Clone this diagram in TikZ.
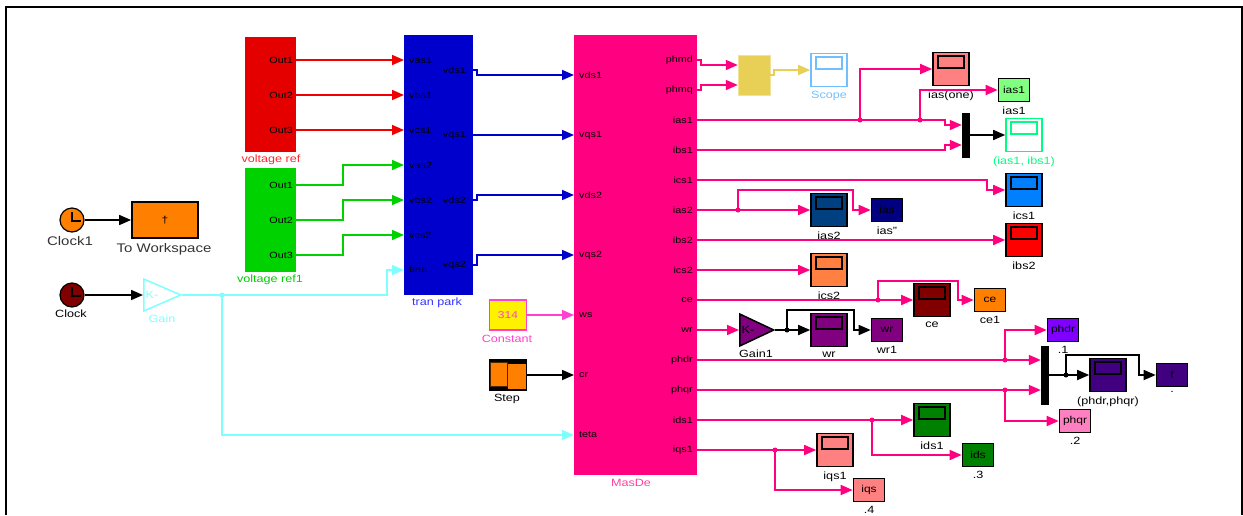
\documentclass[tikz,border=0pt]{standalone}
\usepackage{fontspec}
\setmainfont[FakeStretch=1.2]{Liberation Sans}
\usetikzlibrary{shapes.geometric, arrows.meta, positioning, calc}

\definecolor{pinkwire}{RGB}{255, 0, 128}
\definecolor{cyanwire}{RGB}{128, 255, 255}
\definecolor{redwire}{RGB}{240, 0, 0}
\definecolor{greenwire}{RGB}{0, 210, 0}
\definecolor{bluewire}{RGB}{0, 0, 205}
\definecolor{magwire}{RGB}{255, 64, 208}
\definecolor{yelblock}{RGB}{232, 207, 85}
\definecolor{salmon}{RGB}{255, 128, 128}
\definecolor{sky}{RGB}{112, 192, 255}
\definecolor{mint}{RGB}{0, 255, 128}
\definecolor{lime}{RGB}{128, 255, 128}
\definecolor{navyA}{RGB}{0, 64, 128}
\definecolor{navyB}{RGB}{0, 0, 128}
\definecolor{azure}{RGB}{0, 128, 255}
\definecolor{coral}{RGB}{255, 128, 64}
\definecolor{maroonA}{RGB}{128, 0, 0}
\definecolor{orangeA}{RGB}{255, 128, 0}
\definecolor{purpleA}{RGB}{128, 0, 128}
\definecolor{violetA}{RGB}{128, 0, 255}
\definecolor{indigoA}{RGB}{64, 0, 128}
\definecolor{rose}{RGB}{255, 128, 192}
\definecolor{greenA}{RGB}{0, 128, 0}

\tikzset{
    wire/.style={line width=1.7pt, -{Triangle[length=12pt,width=10pt]}},
    dotjoin/.style={circle, fill, inner sep=0pt, minimum size=5pt},
    subsys/.style={inner sep=0pt, outer sep=0pt, anchor=north west},
    portname/.style={inner sep=1pt, font=\fontsize{9}{9}\selectfont},
    tag/.style={inner sep=0pt, font=\fontsize{10.5}{10.5}\selectfont},
    scopebox/.style={draw=black, line width=1.6pt, minimum width=36pt, minimum height=33pt, inner sep=0pt},
    scopewin/.style={draw=black, line width=1.6pt, minimum width=26pt, minimum height=12pt, inner sep=0pt},
    dispbox/.style={draw=black, line width=1.6pt, minimum width=31pt, minimum height=23pt, inner sep=0pt, font=\fontsize{10}{10}\selectfont},
    muxbar/.style={fill=black, minimum width=8pt, inner sep=0pt},
    clockface/.style={circle, draw=black, line width=1.2pt, minimum size=24pt, inner sep=0pt},
    gainbox/.style={isosceles triangle, isosceles triangle apex angle=80, isosceles triangle stretches, minimum width=32pt, minimum height=37pt, inner sep=0pt, line width=1.5pt, anchor=west}
}

\begin{document}
\begin{tikzpicture}[x=1pt, y=-1pt]
    \useasboundingbox (0,0) rectangle (1243,515);

    % Outer frame
    \draw[line width=1.8pt] (6,515) -- (6,7) -- (1242,7) -- (1242,515);

    % Source subsystems
    \node[subsys, fill=red!90!black, minimum width=51.5pt, minimum height=115pt] (vref) at (244.5,37) {};
    \node[subsys, fill=greenwire, minimum width=51.5pt, minimum height=104pt] (vrefb) at (244.5,168) {};
    \node[subsys, fill=bluewire, minimum width=69.5pt, minimum height=260pt] (park) at (403.5,35) {};
    \node[subsys, fill=pinkwire, minimum width=123.5pt, minimum height=440pt] (masde) at (573.5,35) {};
    \node[tag, text=red!85!white] (vreflbl) at (271,160) {voltage ref};
    \node[tag, text=green!80!black] (vrefblbl) at (270,280) {voltage ref1};
    \node[tag, text=blue!80!white] (parklbl) at (437,303) {tran park};
    \node[tag, text=pinkwire!75!white] (masdelbl) at (631,483) {MasDe};

    % Ports on the subsystems
    \foreach \nm/\yy/\txt in {a/60/Out1, b/95/Out2, c/130/Out3} {
        \coordinate (ref\nm) at (296,\yy);
        \node[portname, left=2pt of ref\nm] (ref\nm txt) {\txt};
    }
    \foreach \nm/\yy/\txt in {a/185/Out1, b/220/Out2, c/255/Out3} {
        \coordinate (refb\nm) at (296,\yy);
        \node[portname, left=2pt of refb\nm] (refb\nm txt) {\txt};
    }
    \foreach \nm/\yy in {vas1/60, vbs1/95, vcs1/130, vas2/165, vbs2/200, vcs2/235, teta/270} {
        \coordinate (pin\nm) at (404,\yy);
        \node[portname, right=4pt of pin\nm] (pin\nm txt) {\nm};
    }
    \foreach \nm/\yy in {vds1/70, vqs1/135, vds2/200, vqs2/265} {
        \coordinate (pout\nm) at (473,\yy);
        \node[portname, left=6pt of pout\nm] (pout\nm txt) {\nm};
    }
    \foreach \nm/\yy in {vds1/75, vqs1/135, vds2/195, vqs2/255, ws/315, cr/375, teta/435} {
        \coordinate (min\nm) at (574,\yy);
        \node[portname, right=4pt of min\nm] (min\nm txt) {\nm};
    }
    \foreach \nm/\yy in {phmd/60, phmq/90, ias1/120, ibs1/150, ics1/180, ias2/210, ibs2/240,
                         ics2/270, ce/300, wr/330, phdr/360, phqr/390, ids1/420, iqs1/450} {
        \coordinate (mo\nm) at (697,\yy);
        \node[portname, left=3pt of mo\nm] (mo\nm txt) {\nm};
    }

    % Scopes
    \foreach \nm/\cx/\cy/\col/\txt in {iasone/951/69/salmon/ias(one), sias2/829/210/navyA/ias2,
                                       sics1/1024/190/azure/ics1, sibs2/1024/240/red/ibs2,
                                       sics2/829/270/coral/ics2, sce/932/300/maroonA/ce,
                                       swr/829/330/purpleA/wr, sphi/1108/375/indigoA/{(phdr,phqr)},
                                       sids/932/420/greenA/ids1, siqs/835/450/salmon/iqs1} {
        \node[scopebox, fill=\col] (\nm) at (\cx,\cy) {};
        \node[scopewin, fill=\col, yshift=7pt] (\nm win) at (\nm.center) {};
        \node[tag, below=4pt of \nm] (\nm lbl) {\txt};
    }
    \node[scopebox, draw=sky, fill=white] (scope) at (829,70) {};
    \node[scopewin, draw=sky, yshift=7pt] (scopewin) at (scope.center) {};
    \node[tag, text=sky, below=4pt of scope] (scopelbl) {Scope};
    \node[scopebox, draw=mint, fill=white] (siab) at (1024,135) {};
    \node[scopewin, draw=mint, yshift=7pt] (siabwin) at (siab.center) {};
    \node[tag, text=mint, below=4pt of siab] (siablbl) {(ias1, ibs1)};

    % Displays
    \foreach \nm/\cx/\cy/\col/\txt/\sub in {dias/1014/90/lime/ias1/ias1, diasb/887/210/navyB/ias/ias",
                                            dce/990/300/orangeA/ce/ce1, dwr/887/330/purpleA/wr/wr1,
                                            dphdr/1063/330/violetA/phdr/.1, dphqr/1075/421/rose/phqr/.2,
                                            df/1172/375/indigoA/f/., dids/978/455/greenA/ids/.3,
                                            diqs/869/490/salmon/iqs/.4} {
        \node[dispbox, fill=\col] (\nm) at (\cx,\cy) {\txt};
        \node[tag, below=4pt of \nm] (\nm lbl) {\sub};
    }

    % Muxes and the yellow block
    \node[muxbar, minimum height=45pt] (muxa) at (966,135) {};
    \node[muxbar, minimum height=59pt] (muxb) at (1045,375) {};
    \node[fill=yelblock, draw=yelblock!60!white, minimum width=32pt, minimum height=40pt, inner sep=0pt] (yel) at (754,75) {};

    % Clocks and gains
    \node[clockface, fill=orangeA] (clka) at (72,220) {};
    \node[clockface, fill=maroonA] (clkb) at (72,295) {};
    \foreach \nm in {clka, clkb} {
        \draw[line width=1.2pt] ($(\nm.center)+(0,-8)$) -- ($(\nm.center)+(0,1)$) -- ($(\nm.center)+(9,1)$);
    }
    \node[tag, font=\fontsize{12.5}{12.5}\selectfont, text=black!80] (clkalbl) at (70,241) {Clock1};
    \node[tag] (clkblbl) at (71,314) {Clock};
    \node[draw=black, line width=1.8pt, fill=orangeA, minimum width=66pt, minimum height=36pt, inner sep=0pt] (work) at (165,220) {†};
    \node[tag, font=\fontsize{12.5}{12.5}\selectfont, text=black!80] (worklbl) at (164,249) {To Workspace};
    \node[gainbox, draw=cyanwire, fill=white] (gain) at (143,295) {};
    \node[tag, text=cyanwire] (gainK) at (152,295) {K-};
    \node[tag, text=cyanwire] (gainlbl) at (162,319) {Gain};
    \node[gainbox, draw=black, fill=purpleA, minimum height=34pt] (gainb) at (739,330) {};
    \node[tag] (gainbK) at (748,330) {K-};
    \node[tag] (gainblbl) at (756,354) {Gain1};

    % Constant and step
    \node[draw=magwire, line width=1.6pt, fill=yellow, text=magwire, minimum width=37pt, minimum height=30pt, inner sep=0pt, font=\fontsize{10}{10}\selectfont] (const) at (508,315) {314};
    \node[tag, text=magwire] (constlbl) at (507,339) {Constant};
    \node[draw=black, line width=1.6pt, fill=black, minimum width=37pt, minimum height=30pt, inner sep=0pt] (stepblk) at (508,375) {};
    \fill[orangeA, draw=black!70!orangeA, line width=0.8pt] (490.5,362) rectangle (507,386);
    \fill[orangeA] (508,364) rectangle (525.5,389);
    \node[tag] (stepblklbl) at (507,399) {Step};

    % Black wires
    \draw[wire] (clka) -- (work);
    \draw[wire] (clkb) -- (gain.west);
    \draw[wire] (stepblk) -- (mincr);
    \draw[wire] (muxa) -- (siab);
    \draw[wire] (gainb.apex) -- (swr);
    \coordinate (jgb) at (787,330);
    \node[dotjoin] (jgbdot) at (jgb) {};
    \draw[wire] (jgb) -- ++(0,-20) -| (854,330) -- (dwr);
    \draw[wire] (muxb) -- (sphi);
    \coordinate (jmb) at (1066,375);
    \node[dotjoin] (jmbdot) at (jmb) {};
    \draw[wire] (jmb) -- ++(0,-20) -| (1139,375) -- (df);

    % Voltage wires
    \foreach \aa/\bb in {refa/pinvas1, refb/pinvbs1, refc/pinvcs1} {
        \draw[wire, redwire] (\aa) -- (\bb);
    }
    \foreach \aa/\bb in {refba/pinvas2, refbb/pinvbs2, refbc/pinvcs2} {
        \draw[wire, greenwire] (\aa) -- (343,0 |- \aa) -- (343,0 |- \bb) -- (\bb);
    }

    % Park to machine
    \draw[wire, bluewire] (poutvds1) -- ++(4,0) |- (minvds1);
    \draw[wire, bluewire] (poutvqs1) -- (minvqs1);
    \draw[wire, bluewire] (poutvds2) -- ++(4,0) |- (minvds2);
    \draw[wire, bluewire] (poutvqs2) -- ++(4,0) |- (minvqs2);

    % Gain output
    \draw[wire, cyanwire] (gain.apex) -- (387,295) |- (pinteta);
    \coordinate (jgain) at (222,295);
    \node[dotjoin, cyanwire] (jgaindot) at (jgain) {};
    \draw[wire, cyanwire] (jgain) |- (minteta);
    \draw[wire, magwire] (const) -- (minws);
    \draw[wire, yelblock] (yel) -- ++(20,0) |- (scope);

    % Machine outputs
    \begin{scope}[pinkwire]
        \draw[wire] (mophmd) -- ++(4,0) |- ($(yel.west)+(0,-10)$);
        \draw[wire] (mophmq) -- ++(4,0) |- ($(yel.west)+(0,10)$);
        \draw[wire] (moias1) -- (945,120) |- ($(muxa.west)+(0,-10)$);
        \draw[wire] (moibs1) -- (945,150) |- ($(muxa.west)+(0,10)$);
        \coordinate (ja) at (860,120);
        \coordinate (jb) at (920,120);
        \draw[wire] (ja) |- (iasone);
        \draw[wire] (jb) |- (dias);
        \draw[wire] (moics1) -- (987,180) |- (sics1);
        \draw[wire] (moias2) -- (sias2);
        \coordinate (jc) at (738,210);
        \draw[wire] (jc) -- ++(0,-20) -| (853,210) -- (diasb);
        \draw[wire] (moibs2) -- (sibs2);
        \draw[wire] (moics2) -- (sics2);
        \draw[wire] (moce) -- (sce);
        \coordinate (jd) at (878,300);
        \draw[wire] (jd) -- ++(0,-19) -| (958,300) -- (dce);
        \draw[wire] (mowr) -- (gainb.west);
        \draw[wire] (mophdr) -- ($(muxb.west)+(0,-15)$);
        \draw[wire] (mophqr) -- ($(muxb.west)+(0,15)$);
        \coordinate (je) at (1005,360);
        \coordinate (jf) at (1005,390);
        \draw[wire] (je) |- (dphdr);
        \draw[wire] (jf) |- (dphqr);
        \draw[wire] (moids1) -- (sids);
        \coordinate (jg) at (872,420);
        \draw[wire] (jg) |- (dids);
        \draw[wire] (moiqs1) -- (siqs);
        \coordinate (jh) at (775,450);
        \draw[wire] (jh) |- (diqs);
        \foreach \nm in {ja, jb, jc, jd, je, jf, jg, jh} {
            \node[dotjoin] (\nm dot) at (\nm) {};
        }
    \end{scope}
\end{tikzpicture}
\end{document}
